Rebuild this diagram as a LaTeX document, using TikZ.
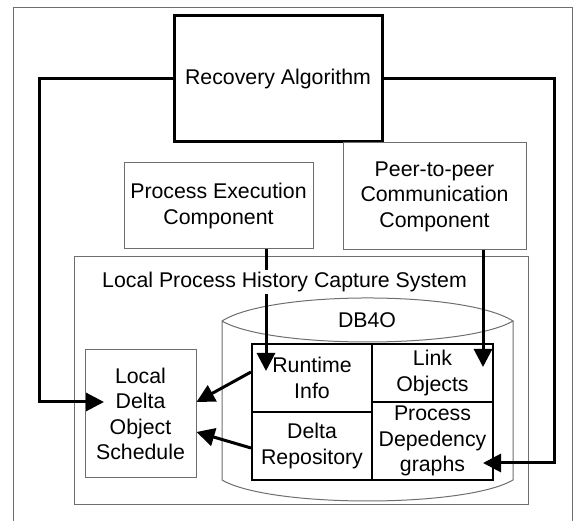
\documentclass[tikz,border=0pt]{standalone}
\usepackage{fontspec}
\setmainfont{Liberation Sans}
\usetikzlibrary{arrows.meta}
\definecolor{framegray}{RGB}{110,110,110}

\begin{document}
\begin{tikzpicture}[x=1pt,y=-1pt,
    font=\fontsize{21.3}{25.5}\selectfont,
    thinbox/.style={draw=framegray,line width=1pt,align=center,inner sep=0pt},
    cellbox/.style={draw=black,line width=2pt,align=center,inner sep=0pt},
    flow/.style={line width=3pt,-{Triangle[length=18pt,width=18pt]}}]
    \useasboundingbox (0,0) rectangle (574,521);

    % Outer frame, open at the bottom
    \draw[framegray,line width=1pt] (13,521) -- (13,8) -- (572,8) -- (572,521);

    % Top components
    \node[draw=black,line width=3pt,minimum width=208pt,minimum height=126pt] (recovery) at (278,79) {Recovery Algorithm};
    \node[thinbox,minimum width=189pt,minimum height=86pt] (procexec) at (218.5,206) {Process Execution\\Component};
    \node[thinbox,minimum width=183pt,minimum height=107pt] (peer) at (434.5,196.5) {Peer-to-peer\\Communication\\Component};

    % Local capture system
    \node[thinbox,minimum width=454pt,minimum height=248pt] (lphcs) at (301,381) {};
    \node[thinbox,minimum width=111pt,minimum height=128pt] (ldos) at (140.5,414) {Local\\Delta\\Object\\Schedule};

    % DB4O store
    \draw[framegray,line width=1pt] (222,321) .. controls (270,290.3) and (465,290.3) .. (513,321)
        .. controls (465,349) and (270,349) .. (222,321) -- (222,480)
        .. controls (270,508) and (465,508) .. (513,480) -- (513,321);
    \node (dbname) at (367,320) {DB4O};
    \node[cellbox,minimum width=120pt,minimum height=68pt] (runtime) at (312,378) {Runtime\\Info};
    \node[cellbox,minimum width=120pt,minimum height=68pt] (deltarepo) at (312,446) {Delta\\Repository};
    \node[cellbox,minimum width=121pt,minimum height=58pt] (link) at (432.5,373) {Link\\Objects};
    \node[cellbox,minimum width=121pt,minimum height=78pt] (procdep) at (432.5,441) {Process\\Depedency\\graphs};

    % Connectors
    \coordinate (leftrail) at (39,402);
    \coordinate (ldosin) at (104,402);
    \coordinate (rightrail) at (554,463);
    \coordinate (pdin) at (483,463);
    \coordinate (rtin) at (266,371);
    \coordinate (lkin) at (483,367);
    \draw[flow] (recovery.west) -| (leftrail) -- (ldosin);
    \draw[flow] (recovery.east) -| (rightrail) -- (pdin);
    \draw[flow] (procexec.south -| rtin) -- (rtin);
    \draw[flow] (peer.south -| lkin) -- (lkin);
    \draw[flow] ([yshift=6pt]runtime.west) -- ([yshift=12pt]ldos.east);
    \draw[flow] ([yshift=-2pt]deltarepo.west) -- ([yshift=-18pt]ldos.east);

    % Title of the capture system, over the arrow
    \node[fill=white,inner sep=2pt] (lphcstitle) at (284.5,282) {Local Process History Capture System};
\end{tikzpicture}
\end{document}
